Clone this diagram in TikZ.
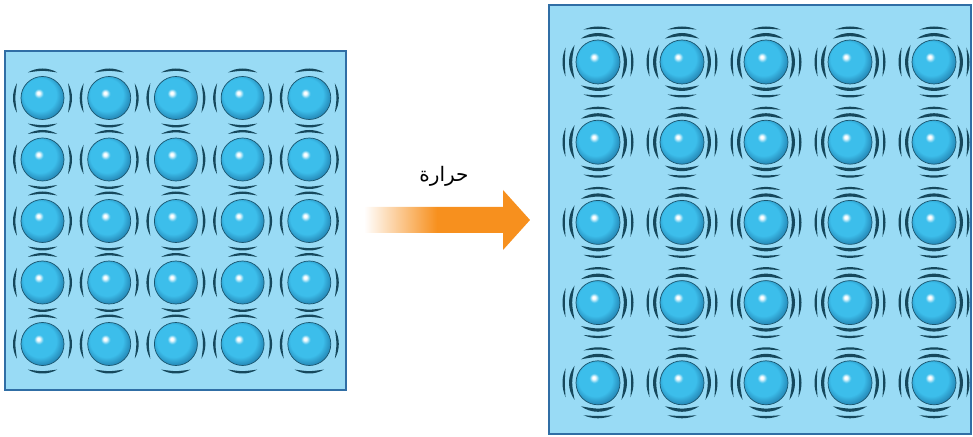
\documentclass[tikz,border=0pt]{standalone}
\usepackage{fontspec}
\newfontfamily\arabicfont[Script=Arabic]{DejaVu Sans}
\TeXXeTstate=1

\definecolor{boxfill}{RGB}{153,219,245}
\definecolor{boxedge}{RGB}{48,110,165}
\definecolor{ballblue}{RGB}{60,190,235}
\definecolor{balldeep}{RGB}{30,120,168}
\definecolor{balledge}{RGB}{25,85,110}
\definecolor{wavedark}{RGB}{22,72,92}
\definecolor{heatorange}{RGB}{247,144,30}

% shaded particle with a small highlight
\pgfdeclareradialshading{atomball}{\pgfpoint{-5bp}{6bp}}{%
  color(0bp)=(white); color(1.5bp)=(white); color(5.5bp)=(ballblue);
  color(19bp)=(ballblue); color(30bp)=(balldeep); color(50bp)=(balldeep)}
% arrow fading in from the left
\pgfdeclarehorizontalshading{heatfade}{100bp}{%
  color(0bp)=(white); color(25bp)=(white); color(47bp)=(heatorange);
  color(100bp)=(heatorange)}

\tikzset{
  box/.style={draw=boxedge, fill=boxfill, line width=2.6pt},
  wave/.style={fill=wavedark},
  particle/.style={shading=atomball, draw=balledge, line width=0.7pt},
}

% crescent: x, y, direction, radius, half span, thickness
\newcommand{\wavearc}[6]{%
  \pgfmathsetmacro\pax{#1+#4*cos(#3-#5)}%
  \pgfmathsetmacro\pay{#2+#4*sin(#3-#5)}%
  \pgfmathsetmacro\wq{(8*(#4-#6)-2*#4*cos(#5))/6}%
  \pgfmathsetmacro\qx{#1+\wq*cos(#3)}%
  \pgfmathsetmacro\qy{#2+\wq*sin(#3)}%
  \fill[wave] (\pax pt,\pay pt)
    arc[start angle=#3-#5, end angle=#3+#5, radius=#4pt]
    .. controls (\qx pt,\qy pt) .. (\pax pt,\pay pt) -- cycle;}
% particle: x, y, radius
\newcommand{\atom}[3]{\shade[particle] (#1pt,#2pt) circle[radius=#3pt];}

\begin{document}
\begin{tikzpicture}[x=1pt,y=1pt]
  \useasboundingbox (0,0) rectangle (973,436);

  % cold solid
  \draw[box] (5,46) rectangle (346,385);
  \foreach \i in {0,...,4}
    \foreach \j in {0,...,4} {
      \pgfmathsetmacro\ax{42.5+66.7*\i}
      \pgfmathsetmacro\ay{338-61.5*\j}
      \foreach \d in {0,90,180,270} {
        \wavearc{\ax}{\ay}{\d}{29.5}{30}{2.4}
      }
      \atom{\ax}{\ay}{21.5}
    }

  % heat
  \shade[shading=heatfade] (364,229) -- (503,229) -- (503,246) -- (530,216)
    -- (503,186) -- (503,203) -- (364,203) -- cycle;
  \node (heat) at (444,260) {\fontsize{20}{24}\selectfont\arabicfont\beginR حرارة\endR};

  % hot solid
  \draw[box] (549,2) rectangle (971,431);
  \foreach \i in {0,...,4}
    \foreach \j in {0,...,4} {
      \pgfmathsetmacro\ax{598+84*\i}
      \pgfmathsetmacro\ay{374-80.2*\j}
      \foreach \d in {0,90,180,270} {
        \wavearc{\ax}{\ay}{\d}{29}{36}{3.2}
        \wavearc{\ax}{\ay}{\d}{35.5}{24}{2.3}
      }
      \atom{\ax}{\ay}{22}
    }
\end{tikzpicture}
\end{document}
